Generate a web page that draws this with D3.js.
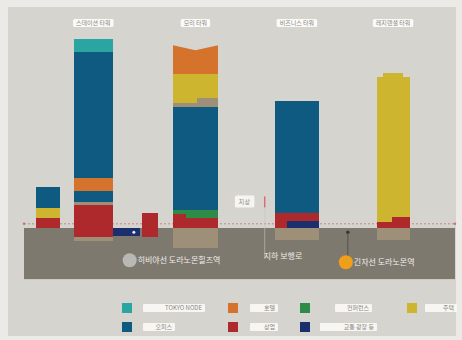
<!DOCTYPE html>
<meta charset="utf-8">
<style>
body { margin: 0; background: #ebeae6; }
svg { display: block; font-family: "Noto Sans CJK KR", "Noto Sans", sans-serif; }
.blk rect { shape-rendering: crispEdges; }
</style>
<body>
<script src="https://d3js.org/d3.v7.min.js"></script>
<script>

// towers (titles sit over the main bar of each)
var towers = ["스테이션 타워", "모리 타워", "비즈니스 타워", "레지덴셜 타워"];
var towerBar = [1, 4, 5, 6];

// horizontal extent of every block along the section, metres
var barX = [[17, 51], [71, 127], [127, 166], [169, 191], [213, 277], [359, 421], [504, 551]];

// [use, from m, to m, width fraction start, end]
var bar0 = [["commercial", 0, 14], ["residential", 14, 29], ["office", 29, 59]];
var bar1 = [["parking", -19, -13], ["commercial", -13, 33], ["parking", 33, 37], ["office", 37, 53],
            ["hotel", 53, 71], ["office", 71, 251], ["node", 251, 270]];
var bar2 = [["transit", -12, 0]];
var bar3 = [["commercial", -13, 21]];
var bar4 = [["parking", -29, 0], ["commercial", 0, 14], ["commercial", 14, 20, 0, 0.3],
            ["conference", 20, 26, 0, 0.3], ["conference", 14, 26, 0.3, 1], ["office", 26, 173],
            ["parking", 173, 179], ["parking", 179, 186, 0.53, 1], ["residential", 179, 220, 0, 0.53],
            ["residential", 186, 220, 0.53, 1], ["hotel", 220, 261]];
var bar5 = [["parking", -17, 0], ["commercial", 0, 10, 0, 0.27], ["transit", 0, 10, 0.27, 1],
            ["commercial", 10, 21], ["office", 21, 181]];
var bar6 = [["parking", -17, 0], ["commercial", 0, 9, 0, 0.48], ["commercial", 0, 16, 0.48, 1],
            ["residential", 9, 216, 0, 0.48], ["residential", 16, 216, 0.48, 1],
            ["residential", 216, 221, 0.18, 0.79]];
var bars = [bar0, bar1, bar2, bar3, bar4, bar5, bar6];

// notch in the hotel crown of the Mori tower: [bar, depth m]
var notch = [4, 7];

var groundSpan = [0, 616, -73];
var levelLine = 6;

var uses = ["node", "office", "hotel", "commercial", "conference", "transit", "residential", "parking"];
var useNames = ["TOKYO NODE", "오피스", "호텔", "상업", "컨퍼런스", "교통 광장 등", "주택", ""];
var useColors = ["#2aa5a2", "#0e5a80", "#d5732d", "#ad292c", "#2f8c48", "#1b2f6c", "#cdb530", "#9d8f78"];

// station / level notes: [text, x m, y m]
var stations = [["히비야선 도라노몬힐즈역", 151, -46, "#b9b8b4"], ["긴자선 도라노몬역", 460, -49, "#f0a018"]];
var walkway = ["지하 보행로", 344, -40];
var levelTag = ["지상", 315, 38];

var W = 462, H = 340;
var x = d3.scaleLinear().domain([0, 616]).range([24, 455]);
var y = d3.scaleLinear().domain([0, 300]).range([228, 18]);
var color = d3.scaleOrdinal().domain(uses).range(useColors);

var svg = d3.select("body").append("svg").attr("width", W).attr("height", H);

svg.append("rect").attr("x", 8).attr("y", 7).attr("width", 448).attr("height", 329)
    .attr("fill", "#d6d4cf");

// ground
svg.append("rect")
    .attr("x", x(groundSpan[0])).attr("y", y(0))
    .attr("width", x(groundSpan[1]) - x(groundSpan[0]))
    .attr("height", y(groundSpan[2]) - y(0))
    .attr("fill", "#7e796f");

// level line
svg.append("line")
    .attr("x1", x(groundSpan[0])).attr("x2", x(groundSpan[1]))
    .attr("y1", y(levelLine)).attr("y2", y(levelLine))
    .attr("stroke", "#cf6f6c").attr("stroke-width", 0.8).attr("stroke-dasharray", "2,2");
[groundSpan[0], groundSpan[1]].forEach(function(v) {
  svg.append("circle").attr("cx", x(v)).attr("cy", y(levelLine)).attr("r", 1.2).attr("fill", "#cf6f6c");
});

// blocks
bars.forEach(function(segs, i) {
  var x0 = x(barX[i][0]), x1 = x(barX[i][1]), w = x1 - x0;
  var g = svg.append("g").attr("class", "blk");
  segs.forEach(function(s) {
    var f0 = s.length > 3 ? s[3] : 0, f1 = s.length > 3 ? s[4] : 1;
    var a = Math.round(x0 + w * f0), b = Math.round(x0 + w * f1);
    if (i === notch[0] && s[0] === "hotel") {
      var top = y(s[2]), dip = y(s[2] - notch[1]);
      g.append("path")
          .attr("d", "M" + a + "," + Math.round(y(s[1])) + "L" + a + "," + top + "L" + (a + b) / 2 + "," + dip +
                "L" + b + "," + top + "L" + b + "," + Math.round(y(s[1])) + "Z")
          .attr("fill", color(s[0]));
    } else {
      var yt = Math.round(y(s[2])), yb = Math.round(y(s[1]));
      g.append("rect")
          .attr("x", a).attr("width", b - a)
          .attr("y", yt).attr("height", yb - yt)
          .attr("fill", color(s[0]));
    }
  });
});

// white dot on the transit block
svg.append("circle").attr("cx", x(157)).attr("cy", y(-6)).attr("r", 1.5).attr("fill", "#e8e8f0");

// tower titles
towers.forEach(function(t, i) {
  var b = barX[towerBar[i]], cx = x((b[0] + b[1]) / 2);
  var txt = svg.append("text").attr("x", cx).attr("y", 25.3)
      .attr("text-anchor", "middle").attr("font-size", 6).attr("fill", "#8a8782").text(t);
  var bb = txt.node().getBBox();
  svg.insert("rect", "text").attr("x", bb.x - 3).attr("y", 19).attr("width", bb.width + 6)
      .attr("height", 8).attr("rx", 1.5).attr("fill", "#fafaf8");
});

// level tag and marker
var tagT = svg.append("text").attr("x", x(levelTag[1])).attr("y", y(levelTag[2]) + 2.2)
    .attr("text-anchor", "middle").attr("font-size", 6).attr("fill", "#8a8782").text(levelTag[0]);
var tb = tagT.node().getBBox();
svg.insert("rect", "text").attr("x", tb.x - 4).attr("y", y(levelTag[2]) - 6)
    .attr("width", tb.width + 8).attr("height", 12).attr("rx", 1.5).attr("fill", "#f6f5f2");
svg.append("line").attr("x1", x(walkway[1])).attr("x2", x(walkway[1]))
    .attr("y1", y(levelTag[2]) - 4).attr("y2", y(walkway[2]) + 2)
    .attr("stroke", "#c8c4bc").attr("stroke-width", 0.6);
svg.append("line").attr("x1", x(walkway[1])).attr("x2", x(walkway[1]))
    .attr("y1", y(levelTag[2]) - 5).attr("y2", y(levelTag[2]) + 6)
    .attr("stroke", "#d96a78").attr("stroke-width", 1.4);
svg.append("text").attr("x", x(walkway[1]) - 1).attr("y", y(walkway[2]) + 3)
    .attr("font-size", 8).attr("fill", "#ecebe8").text(walkway[0]);

// stations
stations.forEach(function(s, i) {
  var cx = x(s[1]), cy = y(s[2]);
  if (i === 1) {
    svg.append("line").attr("x1", cx + 2).attr("x2", cx + 2).attr("y1", y(-6)).attr("y2", cy)
        .attr("stroke", "#3a3832").attr("stroke-width", 0.6);
    svg.append("circle").attr("cx", cx + 2).attr("cy", y(-6)).attr("r", 1.8).attr("fill", "#3a3832");
  }
  svg.append("circle").attr("cx", cx).attr("cy", cy).attr("r", 7).attr("fill", s[3]);
  svg.append("text").attr("x", cx + 8).attr("y", cy + 3)
      .attr("font-size", 8).attr("fill", "#efeeeb").text(s[0]);
});

// legend
var legCols = [122, 228, 300, 407], legRows = [308, 327];
var legOrder = [[0, 0, 0], [1, 0, 1], [2, 1, 0], [3, 1, 1], [4, 2, 0], [5, 2, 1], [6, 3, 0]];
var legBoxX = [[143, 205], [250, 278], [335, 372], [425, 457]];
var legBoxX2 = [[143, 175], [250, 278], [320, 377]];
legOrder.forEach(function(o) {
  var k = o[0], c = o[1], r = o[2];
  svg.append("rect").attr("x", legCols[c]).attr("y", legRows[r] - 5).attr("width", 10).attr("height", 10)
      .attr("fill", color(uses[k]));
  var bx = r === 0 ? legBoxX[c] : legBoxX2[c];
  svg.append("rect").attr("x", bx[0]).attr("y", legRows[r] - 4).attr("width", bx[1] - bx[0]).attr("height", 8)
      .attr("rx", 1).attr("fill", "#f7f6f3");
  svg.append("text").attr("x", bx[1] - 3).attr("y", legRows[r] + 2.2).attr("text-anchor", "end")
      .attr("font-size", 6).attr("fill", "#8a8782").text(useNames[k]);
});

</script>
</body>
